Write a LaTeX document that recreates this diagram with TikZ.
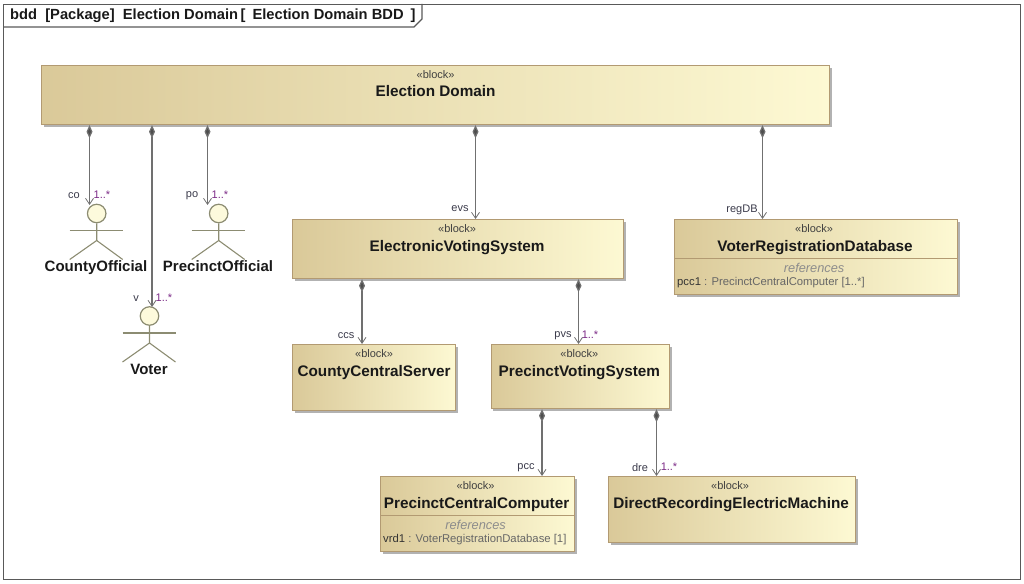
\documentclass[tikz,border=0pt]{standalone}
\usepackage{fontspec}
\setmainfont{Liberation Sans}
\usetikzlibrary{positioning, arrows.meta, calc, shadows}
\definecolor{blockEdge}{HTML}{B29A72}
\definecolor{blockDark}{HTML}{DAC999}
\definecolor{blockLight}{HTML}{FDF9D3}
\definecolor{wireGray}{HTML}{707070}
\definecolor{limbGray}{HTML}{8C8C72}
\definecolor{multPurple}{HTML}{7B2A86}
\definecolor{roleInk}{HTML}{3A3A4A}
\tikzset{
	blockbox/.style={rectangle, draw=blockEdge, line width=1.2pt, left color=blockDark,
		right color=blockLight, anchor=north west, inner sep=0,
		drop shadow={shadow xshift=2pt, shadow yshift=-2pt, fill=black, opacity=0.3}},
	stereo/.style={font=\fontsize{11}{13}\selectfont, text=black!75, inner sep=0},
	blockname/.style={font=\fontsize{15.3}{17}\selectfont\bfseries, text=black!90, inner sep=0},
	refhead/.style={font=\fontsize{12.8}{15}\selectfont\itshape, text=black!45, inner sep=0},
	refline/.style={font=\fontsize{11.3}{13}\selectfont, text=black!60, inner sep=0, anchor=west},
	role/.style={font=\fontsize{11}{13}\selectfont, text=roleInk, inner sep=0},
	mult/.style={font=\fontsize{11}{13}\selectfont, text=multPurple, inner sep=0},
	partof/.style={draw=wireGray, line width=1.2pt,
		{Diamond[length=13pt,width=6pt,fill=wireGray!70!black]}-{Straight Barb[length=6pt,width=8pt,line width=0.8pt]}},
	actorhead/.style={circle, draw=limbGray, line width=1.2pt, fill=blockLight!80!white,
		minimum size=18.5, inner sep=0},
	limb/.style={draw=limbGray, line width=1.1pt},
	actorname/.style={font=\fontsize{15}{17}\selectfont\bfseries, text=black!90, inner sep=0}
}

\begin{document}
\begin{tikzpicture}[x=1pt, y=-1pt]
	\useasboundingbox (0,0) rectangle (1024,583);
	
	% Frame
	\node[rectangle, draw=black!65, line width=1.2pt, anchor=north west, inner sep=0,
	minimum width=1017, minimum height=575] (frame) at (3,4) {};
	\coordinate (tabLeft) at (3,27);
	\coordinate (tabBend) at (414,27);
	\coordinate (tabEnd) at (422,19);
	\coordinate (tabTop) at (422,4);
	\draw[draw=black!65, line width=1.2pt] (tabLeft) -- (tabBend) -- (tabEnd) -- (tabTop);
	\node[font=\fontsize{14.7}{17}\selectfont\bfseries, text=black!90, anchor=west, inner sep=0] (title)
	at (10,15.5) {bdd\ \ [Package]\ \ Election Domain\,[\ \hspace{3pt}Election Domain BDD\ \hspace{3pt}]};
	
	% Blocks
	\node[blockbox, minimum width=788, minimum height=59] (domain) at (41,65) {};
	\node[stereo] (domainStereo) at ($(domain.north) + (0,10)$) {«block»};
	\node[blockname] (domainName) at ($(domain.north) + (0,26.5)$) {Election Domain};
	
	\node[blockbox, minimum width=331, minimum height=59] (evs) at (292,219) {};
	\node[stereo] (evsStereo) at ($(evs.north) + (-1,10)$) {«block»};
	\node[blockname] (evsName) at ($(evs.north) + (-1,29)$) {ElectronicVotingSystem};
	
	\node[blockbox, minimum width=283, minimum height=75] (regDB) at (674,219) {};
	\node[stereo] (regDBStereo) at ($(regDB.north) + (-2,10)$) {«block»};
	\node[blockname] (regDBName) at ($(regDB.north) + (-1,29)$) {VoterRegistrationDatabase};
	\coordinate (regDBSepL) at (674,258);
	\coordinate (regDBSepR) at (957,258);
	\draw[draw=blockEdge, line width=1pt] (regDBSepL) -- (regDBSepR);
	\node[refhead] (regDBRefs) at ($(regDB.north) + (-2,49)$) {references};
	\node[refline] (regDBRef) at (677,282.5) {\textcolor{black!80}{pcc1} : PrecinctCentralComputer [1..*]};
	
	\node[blockbox, minimum width=163, minimum height=66] (ccs) at (292,344) {};
	\node[stereo] (ccsStereo) at ($(ccs.north) + (0,10)$) {«block»};
	\node[blockname] (ccsName) at ($(ccs.north) + (0,29)$) {CountyCentralServer};
	
	\node[blockbox, minimum width=178.5, minimum height=64] (pvs) at (490.5,344) {};
	\node[stereo] (pvsStereo) at ($(pvs.north) + (-1,10)$) {«block»};
	\node[blockname] (pvsName) at ($(pvs.north) + (-1,29)$) {PrecinctVotingSystem};
	
	\node[blockbox, minimum width=194, minimum height=75] (pcc) at (380,476) {};
	\node[stereo] (pccStereo) at ($(pcc.north) + (-2,10)$) {«block»};
	\node[blockname] (pccName) at ($(pcc.north) + (-1,29)$) {PrecinctCentralComputer};
	\coordinate (pccSepL) at (380,515);
	\coordinate (pccSepR) at (574,515);
	\draw[draw=blockEdge, line width=1pt] (pccSepL) -- (pccSepR);
	\node[refhead] (pccRefs) at ($(pcc.north) + (-2,49)$) {references};
	\node[refline] (pccRef) at (383,539.5) {\textcolor{black!80}{vrd1} : VoterRegistrationDatabase [1]};
	
	\node[blockbox, minimum width=247, minimum height=66] (dre) at (608,476) {};
	\node[stereo] (dreStereo) at ($(dre.north) + (-2,10)$) {«block»};
	\node[blockname] (dreName) at ($(dre.north) + (-1,29)$) {DirectRecordingElectricMachine};
	
	% Actors
	\node[actorhead] (coHead) at (96.7,213.5) {};
	\coordinate (coArmL) at ($(coHead) + (-27,17)$);
	\coordinate (coArmR) at ($(coHead) + (26,17)$);
	\coordinate (coHip) at ($(coHead) + (0,27)$);
	\coordinate (coFootL) at ($(coHead) + (-27,46)$);
	\coordinate (coFootR) at ($(coHead) + (26,46)$);
	\draw[limb] (coHead) -- (coHip) -- (coFootL);
	\draw[limb] (coHip) -- (coFootR);
	\draw[limb] (coArmL) -- (coArmR);
	\node[actorname] (coName) at (96,267.5) {CountyOfficial};
	
	\node[actorhead] (poHead) at (218.7,213.5) {};
	\coordinate (poArmL) at ($(poHead) + (-27,17)$);
	\coordinate (poArmR) at ($(poHead) + (26,17)$);
	\coordinate (poHip) at ($(poHead) + (0,27)$);
	\coordinate (poFootL) at ($(poHead) + (-27,46)$);
	\coordinate (poFootR) at ($(poHead) + (26,46)$);
	\draw[limb] (poHead) -- (poHip) -- (poFootL);
	\draw[limb] (poHip) -- (poFootR);
	\draw[limb] (poArmL) -- (poArmR);
	\node[actorname] (poName) at (218,266) {PrecinctOfficial};
	
	\node[actorhead] (vHead) at (149.5,316) {};
	\coordinate (vArmL) at ($(vHead) + (-27,17)$);
	\coordinate (vArmR) at ($(vHead) + (26,17)$);
	\coordinate (vHip) at ($(vHead) + (0,27)$);
	\coordinate (vFootL) at ($(vHead) + (-27,46)$);
	\coordinate (vFootR) at ($(vHead) + (26,46)$);
	\draw[limb] (vHead) -- (vHip) -- (vFootL);
	\draw[limb] (vHip) -- (vFootR);
	\draw[limb] (vArmL) -- (vArmR);
	\node[actorname] (vName) at (149,369) {Voter};
	
	% Connections
	\coordinate (coEnd) at (89.5,205);
	\coordinate (vEnd) at (152,307);
	\coordinate (poEnd) at (207.5,205);
	\coordinate (evsEnd) at (475.5,219);
	\coordinate (regDBEnd) at (762.5,219);
	\coordinate (ccsEnd) at (362,344);
	\coordinate (pvsEnd) at (578.5,344);
	\coordinate (pccEnd) at (542,476);
	\coordinate (dreEnd) at (656.5,476);
	\draw[partof] (domain.south -| coEnd) -- (coEnd);
	\draw[partof] (domain.south -| vEnd) -- (vEnd);
	\draw[partof] (domain.south -| poEnd) -- (poEnd);
	\draw[partof] (domain.south -| evsEnd) -- (evsEnd);
	\draw[partof] (domain.south -| regDBEnd) -- (regDBEnd);
	\draw[partof] (evs.south -| ccsEnd) -- (ccsEnd);
	\draw[partof] (evs.south -| pvsEnd) -- (pvsEnd);
	\draw[partof] (pvs.south -| pccEnd) -- (pccEnd);
	\draw[partof] (pvs.south -| dreEnd) -- (dreEnd);
	
	% Role names
	\node[role] (coRole) at (74,196) {co};
	\node[mult] (coMult) at (102,195) {1..*};
	\node[role] (poRole) at (192,196) {po};
	\node[mult] (poMult) at (220,195) {1..*};
	\node[role] (vRole) at (136,299) {v};
	\node[mult] (vMult) at (164,298) {1..*};
	\node[role] (evsRole) at (460,209) {evs};
	\node[role] (regDBRole) at (742,210) {regDB};
	\node[role] (ccsRole) at (346,336) {ccs};
	\node[role] (pvsRole) at (563,336) {pvs};
	\node[mult] (pvsMult) at (590,335) {1..*};
	\node[role] (pccRole) at (526,468) {pcc};
	\node[role] (dreRole) at (640,468) {dre};
	\node[mult] (dreMult) at (669,467) {1..*};
\end{tikzpicture}
\end{document}
